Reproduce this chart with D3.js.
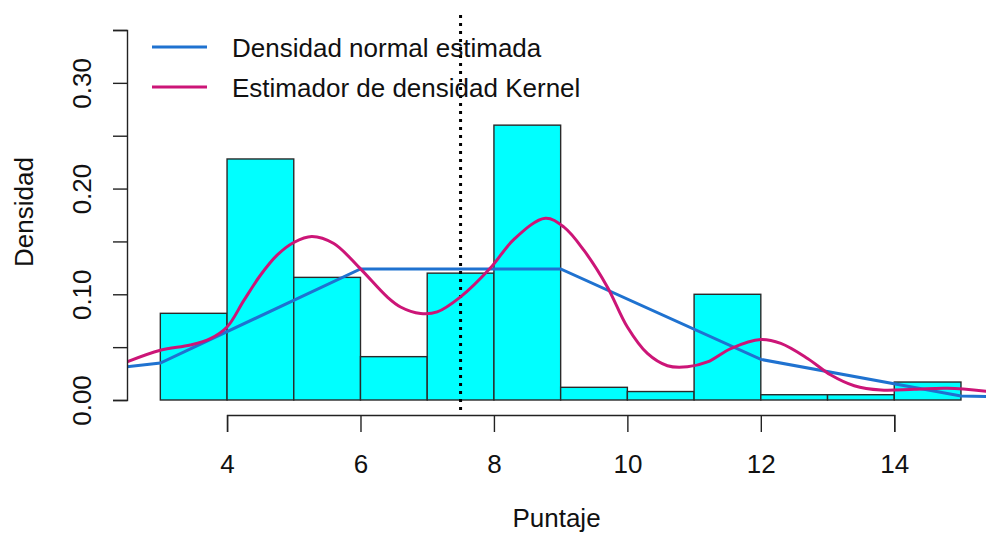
<!DOCTYPE html>
<html>
<head>
<meta charset="utf-8">
<script src="https://cdn.jsdelivr.net/npm/d3@7"></script>
<style>
  body { margin: 0; background: #fff; }
  text { font-family: "Liberation Sans", Arial, sans-serif; fill: #111; }
</style>
</head>
<body>
<div id="wrapper"></div>
<script>
// histogram bins (Puntaje) and densities
const binStarts = [3, 4, 5, 6, 7, 8, 9, 10, 11, 12, 13, 14];
const binDensity = [0.082, 0.228, 0.116, 0.041, 0.12, 0.26, 0.012, 0.008, 0.1, 0.005, 0.005, 0.017];

// normal density polyline
const normX = [2, 3, 6, 9, 12, 15, 15.5];
const normY = [0.028, 0.035, 0.124, 0.124, 0.0384, 0.0038, 0.003];

// kernel density estimate
const kdX = [2.5, 3.0, 3.45, 3.75, 4.0, 4.25, 4.5, 4.75, 5.0, 5.27, 5.6, 6.0, 6.4, 6.6, 6.9, 7.15,
  7.5, 7.95, 8.3, 8.77, 9.05, 9.35, 9.7, 10.0, 10.3, 10.6, 10.9, 11.2, 11.55, 12.0, 12.3, 12.7,
  13.05, 13.4, 13.8, 14.3, 14.8, 15.5];
const kdY = [0.036, 0.047, 0.052, 0.058, 0.069, 0.094, 0.118, 0.137, 0.149, 0.1547, 0.148, 0.124,
  0.0975, 0.088, 0.0818, 0.0833, 0.0975, 0.125, 0.152, 0.172, 0.1635, 0.1415, 0.107, 0.069, 0.044,
  0.0324, 0.0314, 0.036, 0.0487, 0.0572, 0.0535, 0.0393, 0.0236, 0.0135, 0.0094, 0.0101, 0.011, 0.0075];

const xTicks = [4, 6, 8, 10, 12, 14];
const yTicks = [0, 0.05, 0.1, 0.15, 0.2, 0.25, 0.3, 0.35];
const cutLine = 7.5;

const legendItems = [
  { label: "Densidad normal estimada", color: "#1f72d0" },
  { label: "Estimador de densidad Kernel", color: "#cc1577" },
];

const width = 986, height = 534;
const plot = { left: 127, right: 993, top: 15, bottom: 415 };
const fontSize = "26px";

const svg = d3.select("#wrapper").append("svg")
  .attr("width", width)
  .attr("height", height);

const xScale = d3.scaleLinear()
  .domain([2.52, 15.48])
  .range([plot.left + 1.3, plot.right]);
const yScale = d3.scaleLinear()
  .domain([0, 0.35])
  .range([400, 30]);

svg.append("clipPath").attr("id", "clip")
  .append("rect")
  .attr("x", plot.left).attr("y", plot.top)
  .attr("width", plot.right - plot.left).attr("height", plot.bottom - plot.top);

const bounds = svg.append("g").attr("clip-path", "url(#clip)");

// bars
bounds.selectAll("rect.bar")
  .data(binStarts)
  .join("rect")
  .attr("class", "bar")
  .attr("x", d => xScale(d))
  .attr("width", d => xScale(d + 1) - xScale(d))
  .attr("y", (d, i) => yScale(binDensity[i]))
  .attr("height", (d, i) => yScale(0) - yScale(binDensity[i]))
  .attr("fill", "#00ffff")
  .attr("stroke", "#2a2a2a")
  .attr("stroke-width", 1.4);

// vertical dotted line
bounds.append("line")
  .attr("x1", xScale(cutLine)).attr("x2", xScale(cutLine))
  .attr("y1", plot.top).attr("y2", plot.bottom)
  .attr("stroke", "#000")
  .attr("stroke-width", 3)
  .attr("stroke-dasharray", "3,5");

// normal density
const normLine = d3.line()
  .x((d, i) => xScale(normX[i]))
  .y(d => yScale(d));
bounds.append("path")
  .attr("d", normLine(normY))
  .attr("fill", "none")
  .attr("stroke", legendItems[0].color)
  .attr("stroke-width", 3);

// kernel density
const kdLine = d3.line()
  .x((d, i) => xScale(kdX[i]))
  .y(d => yScale(d))
  .curve(d3.curveCatmullRom.alpha(0.5));
bounds.append("path")
  .attr("d", kdLine(kdY))
  .attr("fill", "none")
  .attr("stroke", legendItems[1].color)
  .attr("stroke-width", 3);

// axes
const xAxisScale = xScale.copy().domain([4, 14]).range([xScale(4), xScale(14)]);
const xAxis = svg.append("g")
  .attr("transform", `translate(0,${plot.bottom})`)
  .call(d3.axisBottom(xAxisScale).tickValues(xTicks).tickSize(17).tickPadding(23).tickFormat(d3.format("d")));
xAxis.selectAll("text").style("font-size", fontSize).attr("fill", "#111");

const yAxis = svg.append("g")
  .attr("transform", `translate(${plot.left},0)`)
  .call(d3.axisLeft(yScale).tickValues(yTicks).tickSize(14).tickPadding(22)
    .tickFormat(d => (Math.round(d * 100) % 10 === 0 ? d3.format(".2f")(d) : "")));
yAxis.selectAll("text")
  .style("font-size", fontSize)
  .attr("fill", "#111")
  .attr("transform", "rotate(-90)")
  .attr("x", 0)
  .attr("dy", 0)
  .attr("y", -36)
  .attr("text-anchor", "middle");

svg.selectAll(".domain, .tick line")
  .attr("stroke", "#222")
  .attr("stroke-width", 1.4);

// axis titles
svg.append("text")
  .attr("x", (plot.left + width) / 2)
  .attr("y", 527)
  .attr("text-anchor", "middle")
  .style("font-size", fontSize)
  .text("Puntaje");

svg.append("text")
  .attr("transform", `translate(33,212) rotate(-90)`)
  .attr("text-anchor", "middle")
  .style("font-size", fontSize)
  .text("Densidad");

// legend
const legend = svg.append("g");
legendItems.forEach((item, i) => {
  const y = 47 + i * 40;
  legend.append("line")
    .attr("x1", 152).attr("x2", 207)
    .attr("y1", y).attr("y2", y)
    .attr("stroke", item.color)
    .attr("stroke-width", 3);
  legend.append("text")
    .attr("x", 232)
    .attr("y", y + 10)
    .style("font-size", fontSize)
    .text(item.label);
});
</script>
</body>
</html>
